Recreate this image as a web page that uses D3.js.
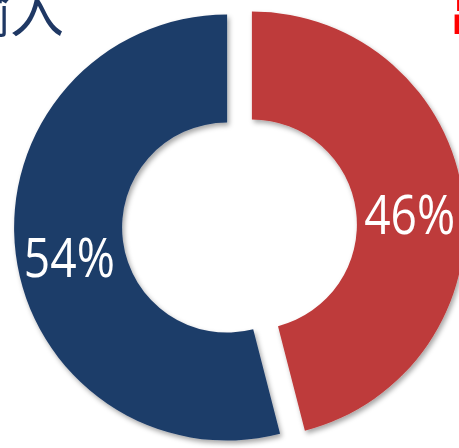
<!DOCTYPE html>
<html>
<head>
<meta charset="utf-8">
<script src="https://cdn.jsdelivr.net/npm/d3@7"></script>
<style>
  html, body { margin: 0; padding: 0; background: #fff; }
  svg { display: block; }
</style>
</head>
<body>
<svg id="chart" width="459" height="448"></svg>
<script>
// ---- data ----
const categories = ["出", "输入"];
const values = [46, 54];
const valueLabels = ["46%", "54%"];
const colors = ["#BE3A3A", "#1F3D69"];
const titleColors = ["#FF0000", "#1F3864"];

const W = 459, H = 448;
const cx = 239.5, cy = 226;
const outerR = 213, innerR = 105, explode = 12.5;

const svg = d3.select("#chart");
const defs = svg.append("defs");
const f = defs.append("filter").attr("id", "shadow")
  .attr("x", "-10%").attr("y", "-10%").attr("width", "120%").attr("height", "120%");
f.append("feDropShadow").attr("dx", 2).attr("dy", 3).attr("stdDeviation", 2.5)
  .attr("flood-color", "#000").attr("flood-opacity", 0.35);

const pie = d3.pie().sort(null).value(d => d).startAngle(0).endAngle(2 * Math.PI);
const arcs = pie(values);
const arc = d3.arc().innerRadius(innerR).outerRadius(outerR);
const mid = d3.arc().innerRadius((innerR + outerR) / 2).outerRadius((innerR + outerR) / 2);

const g = svg.append("g").attr("transform", `translate(${cx},${cy})`);

const slice = g.selectAll("g.slice").data(arcs).join("g")
  .attr("class", "slice")
  .attr("transform", d => {
    const a = (d.startAngle + d.endAngle) / 2;
    return `translate(${Math.sin(a) * explode},${-Math.cos(a) * explode})`;
  });

slice.append("path")
  .attr("d", arc)
  .attr("fill", (d, i) => colors[i])
  .attr("filter", "url(#shadow)");

slice.append("text")
  .attr("x", d => mid.centroid(d)[0])
  .attr("y", d => mid.centroid(d)[1] + 29)
  .attr("text-anchor", "middle")
  .attr("font-family", "'Liberation Sans Narrow', 'Open Sans', sans-serif")
  .attr("font-size", 54)
  .attr("textLength", 91)
  .attr("lengthAdjust", "spacingAndGlyphs")
  .attr("fill", "#fff")
  .text((d, i) => valueLabels[i]);

// category titles (cut off at the edges in the reference)
svg.append("text")
  .attr("x", 64).attr("y", 33)
  .attr("text-anchor", "end")
  .attr("font-family", "'Noto Sans CJK SC', sans-serif")
  .attr("font-size", 54)
  .attr("fill", titleColors[1])
  .text(categories[1]);

svg.append("text")
  .attr("x", 449).attr("y", 33)
  .attr("text-anchor", "start")
  .attr("font-family", "'Noto Sans CJK SC', sans-serif")
  .attr("font-size", 54)
  .attr("fill", titleColors[0])
  .text(categories[0]);
</script>
</body>
</html>
